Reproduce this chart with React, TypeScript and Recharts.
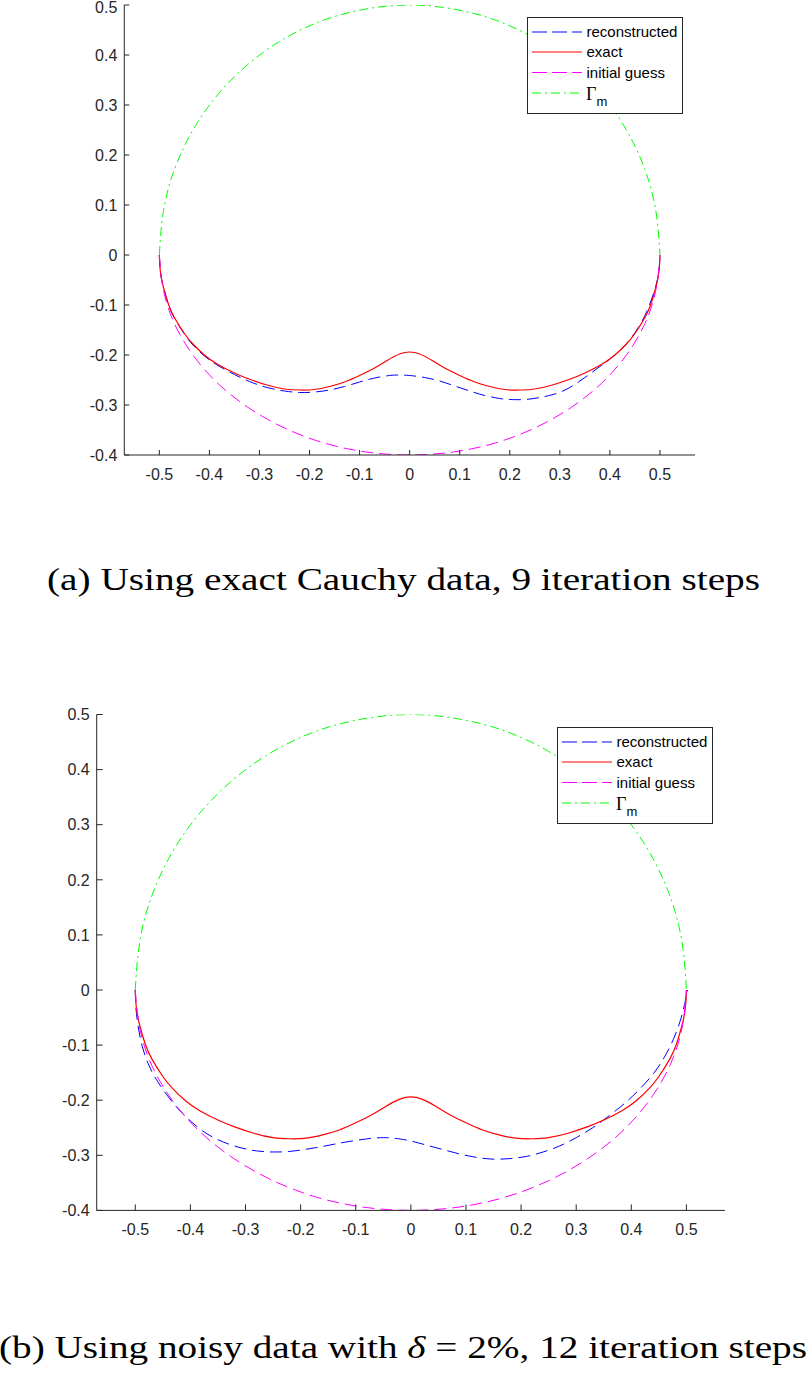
import React from 'react';
import { LineChart, Line, XAxis, YAxis, Legend } from 'recharts';

type Pt = [number, number];

const xTicks = [-0.5, -0.4, -0.3, -0.2, -0.1, 0, 0.1, 0.2, 0.3, 0.4, 0.5];
const yTicks = [-0.4, -0.3, -0.2, -0.1, 0, 0.1, 0.2, 0.3, 0.4, 0.5];
const xDomain = [-0.57, 0.57];
const yDomain = [-0.4, 0.5];

const seriesNames = ['reconstructed', 'exact', 'initial guess', 'Γm'];

// measurement arc, upper half
const gammaM: Pt[] = [
  [-0.5, 0], [-0.492, 0.087], [-0.47, 0.171], [-0.433, 0.25], [-0.383, 0.321],
  [-0.321, 0.383], [-0.25, 0.433], [-0.171, 0.47], [-0.087, 0.492], [0, 0.5],
  [0.087, 0.492], [0.171, 0.47], [0.25, 0.433], [0.321, 0.383], [0.383, 0.321],
  [0.433, 0.25], [0.47, 0.171], [0.492, 0.087], [0.5, 0],
];

const exact: Pt[] = [
  [-0.5, 0], [-0.498, -0.033], [-0.492, -0.064], [-0.482, -0.098], [-0.47, -0.125],
  [-0.45, -0.157], [-0.433, -0.178], [-0.41, -0.2], [-0.383, -0.219], [-0.35, -0.236],
  [-0.321, -0.248], [-0.285, -0.26], [-0.25, -0.268], [-0.22, -0.27], [-0.19, -0.269],
  [-0.16, -0.263], [-0.13, -0.254], [-0.1, -0.241], [-0.07, -0.226], [-0.045, -0.211],
  [-0.02, -0.198], [0, -0.194], [0.02, -0.198], [0.045, -0.211], [0.07, -0.226],
  [0.1, -0.241], [0.13, -0.254], [0.16, -0.263], [0.19, -0.269], [0.22, -0.27],
  [0.25, -0.268], [0.285, -0.26], [0.321, -0.248], [0.35, -0.236], [0.383, -0.219],
  [0.41, -0.2], [0.433, -0.178], [0.45, -0.157], [0.47, -0.125], [0.482, -0.098],
  [0.492, -0.064], [0.498, -0.033], [0.5, 0],
];

const initialGuess: Pt[] = [
  [-0.5, 0], [-0.492, -0.069], [-0.47, -0.137], [-0.433, -0.2], [-0.383, -0.257],
  [-0.321, -0.306], [-0.25, -0.346], [-0.171, -0.376], [-0.087, -0.394], [0, -0.4],
  [0.087, -0.394], [0.171, -0.376], [0.25, -0.346], [0.321, -0.306], [0.383, -0.257],
  [0.433, -0.2], [0.47, -0.137], [0.492, -0.069], [0.5, 0],
];

// (a) exact Cauchy data, 9 steps
const reconstructedA: Pt[] = [
  [-0.5, 0], [-0.498, -0.033], [-0.492, -0.064], [-0.482, -0.098], [-0.47, -0.126],
  [-0.45, -0.158], [-0.433, -0.18], [-0.41, -0.202], [-0.383, -0.221], [-0.35, -0.239],
  [-0.32, -0.253], [-0.285, -0.265], [-0.25, -0.272], [-0.22, -0.275], [-0.19, -0.274],
  [-0.16, -0.27], [-0.13, -0.263], [-0.1, -0.254], [-0.07, -0.246], [-0.04, -0.241],
  [-0.02, -0.24], [0, -0.241], [0.03, -0.245], [0.06, -0.252], [0.09, -0.262],
  [0.12, -0.272], [0.15, -0.281], [0.18, -0.287], [0.2, -0.289], [0.23, -0.289],
  [0.26, -0.285], [0.29, -0.278], [0.32, -0.265], [0.35, -0.245], [0.38, -0.223],
  [0.41, -0.2], [0.435, -0.175], [0.455, -0.148], [0.47, -0.121], [0.482, -0.092],
  [0.492, -0.061], [0.498, -0.031], [0.5, 0],
];

// (b) noisy data delta = 2%, 12 steps
const reconstructedB: Pt[] = [
  [-0.5, 0], [-0.499, -0.03], [-0.495, -0.065], [-0.488, -0.1], [-0.477, -0.133],
  [-0.462, -0.162], [-0.443, -0.19], [-0.42, -0.218], [-0.395, -0.242], [-0.37, -0.261],
  [-0.34, -0.276], [-0.31, -0.286], [-0.28, -0.292], [-0.25, -0.294], [-0.22, -0.293],
  [-0.19, -0.289], [-0.16, -0.284], [-0.13, -0.278], [-0.1, -0.273], [-0.07, -0.269],
  [-0.05, -0.268], [-0.03, -0.269], [0, -0.274], [0.03, -0.282], [0.06, -0.29],
  [0.09, -0.298], [0.12, -0.304], [0.15, -0.307], [0.18, -0.306], [0.21, -0.302],
  [0.24, -0.294], [0.27, -0.283], [0.3, -0.268], [0.33, -0.25], [0.36, -0.228],
  [0.39, -0.204], [0.415, -0.18], [0.44, -0.152], [0.46, -0.122], [0.477, -0.088],
  [0.49, -0.052], [0.498, -0.02], [0.502, 0],
];

const axisColor = '#262626';
const sansFont = '"Liberation Sans", Arial, Helvetica, sans-serif';
const serifFont = '"Liberation Serif", "Times New Roman", serif';

const lineStyles = [
  { color: '#0000ff', dash: '12 6' },
  { color: '#ff0000', dash: undefined },
  { color: '#ff00ff', dash: '12 6' },
  { color: '#00ff00', dash: '9 4 2 4' },
];

const toRows = (pts: Pt[]) => pts.map(([x, y]) => ({ x, y }));

const BottomTick = (props: any) => {
  const { x, y, payload, len } = props;
  return (
    <g>
      <line x1={x} y1={y} x2={x} y2={y - len} stroke={axisColor} />
      <text x={x} y={y + 25} textAnchor="middle" fontFamily={sansFont} fontSize={16} fill={axisColor}>
        {payload.value}
      </text>
    </g>
  );
};

const LeftTick = (props: any) => {
  const { x, y, payload, len } = props;
  return (
    <g>
      <line x1={x} y1={y} x2={x + len} y2={y} stroke={axisColor} />
      <text
        x={x - 7}
        y={Math.max(y + 5.7, 12.5)}
        textAnchor="end"
        fontFamily={sansFont}
        fontSize={16}
        fill={axisColor}
      >
        {payload.value}
      </text>
    </g>
  );
};

const TopTick = (props: any) => {
  const { x, y, len } = props;
  return <line x1={x} y1={y} x2={x} y2={y + len} stroke={axisColor} />;
};

const RightTick = (props: any) => {
  const { x, y, len } = props;
  return <line x1={x} y1={y} x2={x - len} y2={y} stroke={axisColor} />;
};

const LegendBox = () => {
  const rowY = [15, 35, 55.5, 76];
  return (
    <svg width={156} height={97} style={{ display: 'block' }}>
      <rect x={0.5} y={0.5} width={155} height={96} fill="#fff" stroke={axisColor} />
      {seriesNames.map((name, i) => (
        <g key={name}>
          <line
            x1={5}
            x2={55}
            y1={rowY[i]}
            y2={rowY[i]}
            stroke={lineStyles[i].color}
            strokeWidth={1}
            strokeDasharray={i === 0 || i === 2 ? '15 5' : lineStyles[i].dash}
          />
          {i < 3 ? (
            <text x={59.5} y={rowY[i] + 5} fontFamily={sansFont} fontSize={15} fill="#000">
              {name}
            </text>
          ) : (
            <g>
              <text x={59} y={rowY[i] + 6.7} fontFamily={serifFont} fontSize={18} fill="#000">
                {name.charAt(0)}
              </text>
              <text x={69.5} y={rowY[i] + 13.4} fontFamily={sansFont} fontSize={13} fill="#000">
                {name.charAt(1)}
              </text>
            </g>
          )}
        </g>
      ))}
    </svg>
  );
};

type PanelProps = {
  top: number;
  height: number;
  margin: { top: number; right: number; bottom: number; left: number };
  reconstructed: Pt[];
  legendPos: { left: number; top: number };
  tickLen: number;
};

const Panel = ({ top, height, margin, reconstructed, legendPos, tickLen }: PanelProps) => {
  const series = [reconstructed, exact, initialGuess, gammaM];
  return (
    <div style={{ position: 'absolute', left: 0, top, width: 807, height }}>
      <LineChart width={807} height={height} margin={margin}>
        <XAxis
          type="number"
          dataKey="x"
          domain={xDomain}
          ticks={xTicks}
          allowDataOverflow
          interval={0}
          height={30}
          tickSize={0}
          tickMargin={0}
          axisLine={{ stroke: axisColor }}
          tick={(p: any) => <BottomTick {...p} len={tickLen} />}
        />
        <XAxis
          xAxisId="top"
          orientation="top"
          type="number"
          dataKey="x"
          domain={xDomain}
          ticks={xTicks}
          allowDataOverflow
          interval={0}
          height={0}
          tickSize={0}
          tickMargin={0}
          axisLine={{ stroke: axisColor }}
          tick={(p: any) => <TopTick {...p} len={tickLen} />}
        />
        <YAxis
          type="number"
          domain={yDomain}
          ticks={yTicks}
          allowDataOverflow
          interval={0}
          width={60}
          tickSize={0}
          tickMargin={0}
          axisLine={{ stroke: axisColor }}
          tick={(p: any) => <LeftTick {...p} len={tickLen} />}
        />
        <YAxis
          yAxisId="right"
          orientation="right"
          type="number"
          domain={yDomain}
          ticks={yTicks}
          allowDataOverflow
          interval={0}
          width={0}
          tickSize={0}
          tickMargin={0}
          axisLine={{ stroke: axisColor }}
          tick={(p: any) => <RightTick {...p} len={tickLen} />}
        />
        <Legend
          layout="vertical"
          align="center"
          verticalAlign="middle"
          wrapperStyle={{ left: legendPos.left, top: legendPos.top, width: 156, height: 97 }}
          content={() => <LegendBox />}
        />
        {series.map((pts, i) => (
          <Line
            key={seriesNames[i]}
            name={seriesNames[i]}
            data={toRows(pts)}
            dataKey="y"
            type="natural"
            stroke={lineStyles[i].color}
            strokeWidth={i === 1 ? 1.2 : 1}
            strokeDasharray={lineStyles[i].dash}
            dot={false}
            activeDot={false}
            isAnimationActive={false}
          />
        ))}
      </LineChart>
    </div>
  );
};

export default function App() {
  return (
    <div
      style={{
        position: 'absolute',
        left: 0,
        top: 0,
        width: 807,
        height: 1374,
        background: '#fff',
        overflow: 'hidden',
      }}
    >
      <Panel
        top={0}
        height={500}
        margin={{ top: 5, right: 112, bottom: 15, left: 64.3 }}
        reconstructed={reconstructedA}
        legendPos={{ left: 526.5, top: 17 }}
        tickLen={5}
      />
      <svg style={{ position: 'absolute', left: 0, top: 550 }} width={807} height={60}>
        <text x={47} y={40} textLength={713} lengthAdjust="spacingAndGlyphs" fontFamily={serifFont} fontSize={31} fill="#000">
          (a) Using exact Cauchy data, 9 iteration steps
        </text>
      </svg>
      <Panel
        top={700}
        height={560}
        margin={{ top: 14.5, right: 82, bottom: 19.6, left: 36.7 }}
        reconstructed={reconstructedB}
        legendPos={{ left: 556.5, top: 27 }}
        tickLen={6}
      />
      <svg style={{ position: 'absolute', left: 0, top: 1320 }} width={807} height={54}>
        <text x={-1} y={38} textLength={808} lengthAdjust="spacingAndGlyphs" fontFamily={serifFont} fontSize={31} fill="#000">
          (b) Using noisy data with <tspan fontStyle="italic">δ</tspan> = 2%, 12 iteration steps
        </text>
      </svg>
    </div>
  );
}
